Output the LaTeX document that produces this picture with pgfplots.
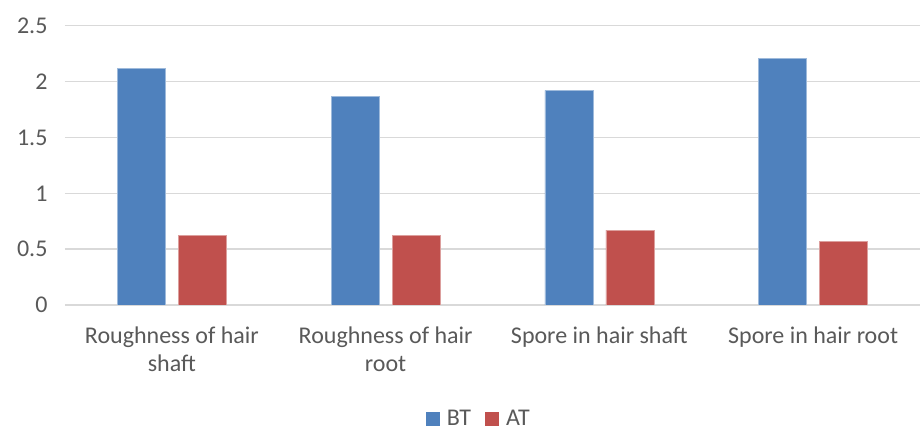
\documentclass[border=0pt]{standalone}
\usepackage{fontspec}
\setmainfont{Carlito}
\usepackage{pgfplots}
\pgfplotsset{compat=1.18}

\definecolor{btblue}{HTML}{4F81BD}
\definecolor{atred}{HTML}{C0504D}
\definecolor{gridgray}{HTML}{D9D9D9}
\definecolor{textgray}{HTML}{595959}

\begin{document}
\begin{tikzpicture}[x=1pt,y=1pt]
\useasboundingbox (0,0) rectangle (921,428);
\begin{axis}[
  at={(65pt,123pt)}, anchor=south west,
  scale only axis,
  width=855pt, height=279.3pt,
  ybar=13pt, bar width=48pt,
  xmin=-0.5, xmax=3.5,
  ymin=0, ymax=2.5,
  ytick={0,0.5,...,2.5},
  xtick=data,
  xticklabels={{Roughness of hair\\shaft},{Roughness of hair\\root},{Spore in hair shaft},{Spore in hair root}},
  axis line style={draw=none},
  major tick length=0pt,
  ymajorgrids,
  grid style={gridgray, line width=1.5pt},
  tick label style={font=\fontsize{24}{28.8}\selectfont, text=textgray},
  xticklabel style={align=center, yshift=-18pt},
  yticklabel style={xshift=-14pt},
  /pgf/number format/assume math mode=true,
  legend columns=2,
  legend style={at={(0.484,-0.408)}, anchor=center, draw=none, fill=none,
    inner sep=0pt,
    nodes={inner ysep=1pt},
    font=\fontsize{24}{28.8}\selectfont, text=textgray,
    /tikz/every even column/.append style={column sep=12pt}},
  legend image code/.code={%
    \fill[#1, draw=none] (0pt,-7pt) rectangle (14pt,7pt);
    \path[draw=none, fill=none] (14pt,0pt) -- (19pt,0pt);},
]
\addplot[fill=btblue, draw=btblue!55!white, line width=0.6pt] coordinates {(0,2.12) (1,1.87) (2,1.92) (3,2.21)};
\addplot[fill=atred, draw=atred!55!white, line width=0.6pt] coordinates {(0,0.62) (1,0.62) (2,0.67) (3,0.57)};
\legend{BT,AT}
\end{axis}
\end{tikzpicture}
\end{document}
